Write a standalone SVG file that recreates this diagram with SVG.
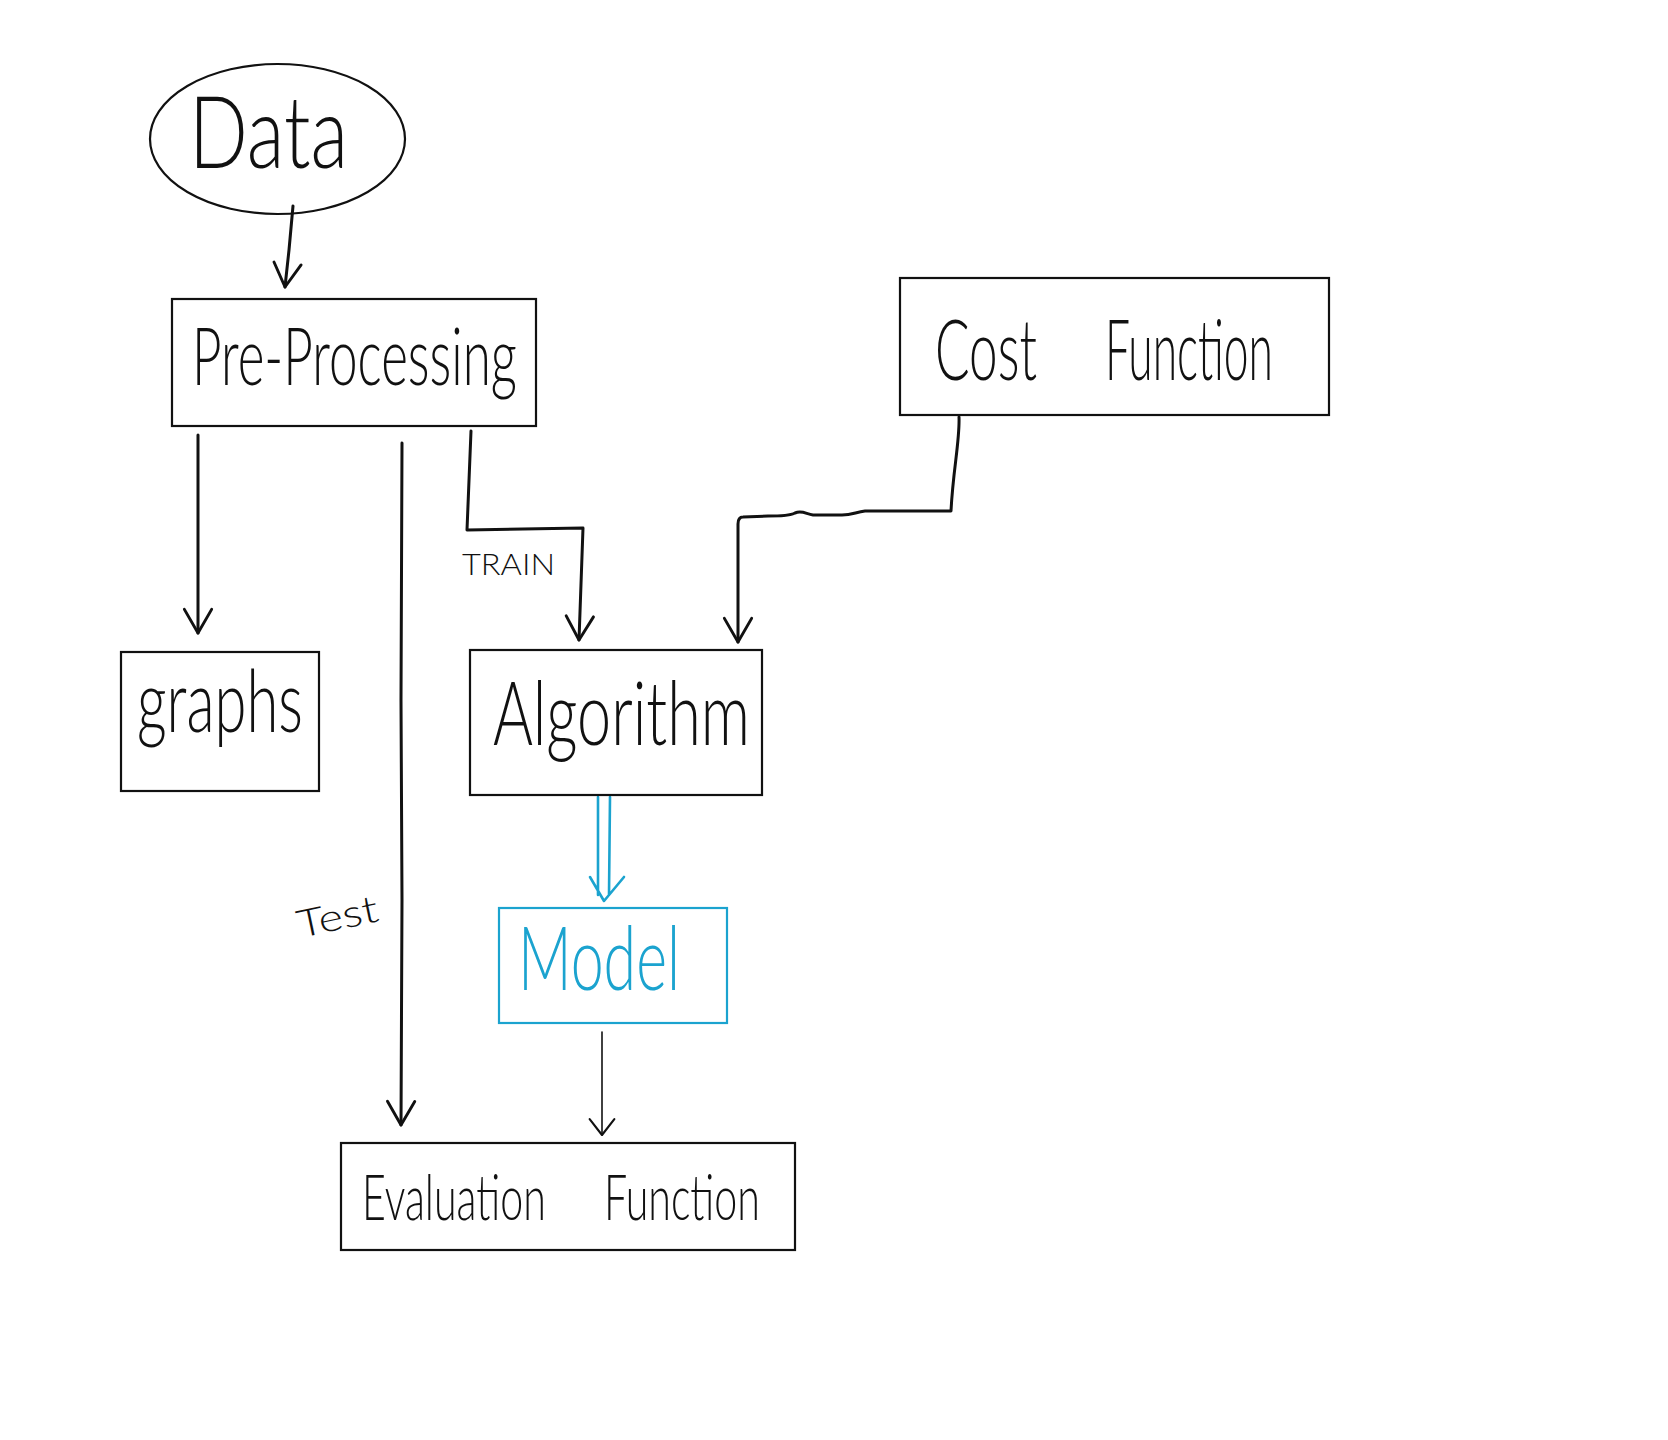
<svg xmlns="http://www.w3.org/2000/svg" width="1668" height="1440" viewBox="0 0 1668 1440">
  <style>
    .box { fill: none; stroke: #111; stroke-width: 2.2; }
    .box.blue { stroke: #1ba3cf; }
    .lbl { font-family: Lato, "Liberation Sans", sans-serif; font-weight: 300; fill: #111; }
    .lbl.blue { fill: #1ba3cf; }
    .wire { fill: none; stroke: #111; stroke-width: 3; stroke-linecap: round; stroke-linejoin: round; }
    .wire.thin { stroke-width: 1.6; }
    .wire.blue { stroke: #1ba3cf; stroke-width: 2.6; }
  </style>
  <defs>
    <marker id="head" markerUnits="userSpaceOnUse" orient="auto" refX="0" refY="0" markerWidth="40" markerHeight="40" viewBox="-40 -20 44 40" overflow="visible">
      <path d="M-26,-15 L0,0 L-26,15" fill="none" stroke="#111" stroke-width="3.2" stroke-linecap="round" stroke-linejoin="round"/>
    </marker>
    <marker id="head-thin" markerUnits="userSpaceOnUse" orient="auto" refX="0" refY="0" markerWidth="30" markerHeight="30" viewBox="-30 -15 34 30" overflow="visible">
      <path d="M-18,-14 L0,0 L-18,14" fill="none" stroke="#111" stroke-width="2.4" stroke-linecap="round" stroke-linejoin="round"/>
    </marker>
  </defs>

  <rect width="1668" height="1440" fill="#fff"/>

  <!-- connectors -->
  <g id="connectors">
    <path class="wire" d="M293,206 L289,250 L285,287" marker-end="url(#head)" stroke-width="3.4"/>
    <path class="wire" d="M198,435 L198,633" marker-end="url(#head)" stroke-width="2.6"/>
    <path class="wire" d="M402,443 L401,700 L402,900 L401,1125" marker-end="url(#head)"/>
    <path class="wire" d="M471,431 L467,530 L583,528 L579,640" marker-end="url(#head)"/>
    <path class="wire" d="M959,417 C960,440 953,470 951,511 L865,511 C856,512 852,515 842,515 L813,515 C806,514 802,510 795,513 C789,516 780,516 768,516 L743,517 Q738,517 738,524 L738,642" marker-end="url(#head)"/>
    <path class="wire blue" d="M598,797 L598,895 M610,797 L609,895 M590,877 L604,901 L624,877"/>
    <path class="wire thin" d="M602,1032 L602,1135" marker-end="url(#head-thin)"/>
    <text class="lbl" x="462" y="575" font-size="30" textLength="93" lengthAdjust="spacingAndGlyphs">TRAIN</text>
    <text class="lbl" x="300" y="938" font-size="38" textLength="82" lengthAdjust="spacingAndGlyphs" transform="rotate(-12 300 938)">Test</text>
  </g>

  <!-- nodes -->
  <g id="data">
    <ellipse cx="277.5" cy="139" rx="127.5" ry="75" class="box"/>
    <text class="lbl" x="189" y="168" font-size="100" textLength="159" lengthAdjust="spacingAndGlyphs">Data</text>
  </g>
  <g id="preprocessing">
    <rect x="172" y="299" width="364" height="127" class="box"/>
    <text class="lbl" x="192" y="385" font-size="80" textLength="325" lengthAdjust="spacingAndGlyphs">Pre-Processing</text>
  </g>
  <g id="costfunction">
    <rect x="900" y="278" width="429" height="137" class="box"/>
    <text class="lbl" x="935" y="380" font-size="84" textLength="102" lengthAdjust="spacingAndGlyphs">Cost</text>
    <text class="lbl" x="1105" y="380" font-size="84" textLength="168" lengthAdjust="spacingAndGlyphs">Function</text>
  </g>
  <g id="graphs">
    <rect x="121" y="652" width="198" height="139" class="box"/>
    <text class="lbl" x="137" y="732" font-size="86" textLength="166" lengthAdjust="spacingAndGlyphs">graphs</text>
  </g>
  <g id="algorithm">
    <rect x="470" y="650" width="292" height="145" class="box"/>
    <text class="lbl" x="493" y="745" font-size="88" textLength="257" lengthAdjust="spacingAndGlyphs">Algorithm</text>
  </g>
  <g id="model">
    <rect x="499" y="908" width="228" height="115" class="box blue"/>
    <text class="lbl blue" x="518" y="990" font-size="88" textLength="162" lengthAdjust="spacingAndGlyphs">Model</text>
  </g>
  <g id="evaluation">
    <rect x="341" y="1143" width="454" height="107" class="box"/>
    <text class="lbl" x="362" y="1220" font-size="64" word-spacing="73" textLength="398" lengthAdjust="spacingAndGlyphs">Evaluation Function</text>
  </g>
</svg>
